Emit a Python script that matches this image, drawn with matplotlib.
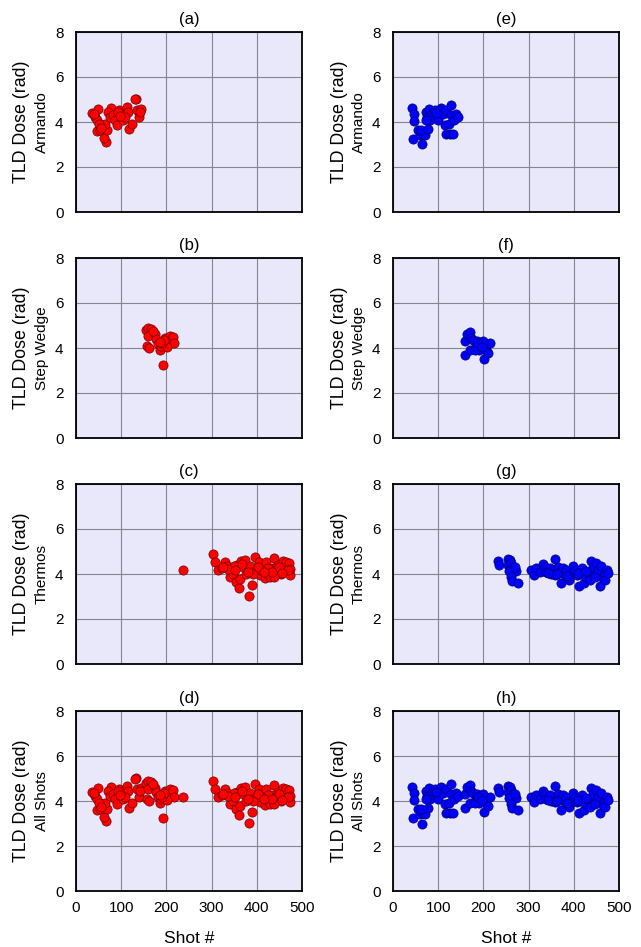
import matplotlib
matplotlib.use("Agg")
import matplotlib.pyplot as plt
import numpy as np

plt.rcParams['font.family'] = ['Liberation Sans', 'DejaVu Sans']

# ---------------- data ----------------
# (a) Armando, red
a_x = [36, 49, 42, 46, 66, 62, 46, 54, 68, 59, 64, 51, 77, 71, 75, 82, 86, 90, 96, 101,
       105, 112, 116, 118, 124, 133, 136, 143, 139, 40, 56, 92, 108, 98, 130, 141]
a_y = [4.40, 4.56, 4.22, 4.07, 3.11, 3.30, 3.60, 3.63, 3.63, 3.85, 3.90, 3.93, 4.64, 4.44, 4.22, 4.30, 4.10, 3.88, 4.52, 4.33,
       4.10, 4.67, 4.44, 3.70, 3.93, 5.02, 4.52, 4.58, 4.20, 4.35, 3.75, 4.45, 4.20, 4.25, 5.00, 4.45]

# (b) Step Wedge, red
b_x = [155, 160, 167, 160, 175, 178, 156, 162, 182, 186, 189, 193, 197, 199, 204, 208, 211, 215, 217, 202, 191, 171, 195, 185]
b_y = [4.78, 4.90, 4.85, 4.53, 4.60, 4.41, 4.11, 4.00, 4.16, 3.89, 4.08, 3.25, 4.45, 4.23, 4.30, 4.53, 4.33, 4.50, 4.20, 4.05, 4.20, 4.75, 4.35, 4.25]

# (c) Thermos, red
c_x = [236, 303, 307, 314, 322, 329, 333, 340, 344, 348, 355, 356, 361, 362, 366, 370, 373, 377, 383, 384,
       390, 395, 399, 404, 406, 414, 418, 421, 427, 430, 436, 438, 443, 447, 454, 458, 462, 465, 471, 473,
       474, 392, 410, 425, 449, 439, 349, 337, 325, 380, 402, 433, 468, 456, 415, 368, 352]
c_y = [4.18, 4.87, 4.54, 4.18, 4.25, 4.54, 4.35, 3.88, 4.18, 3.98, 3.66, 4.40, 3.37, 3.80, 4.60, 4.30, 4.63, 4.02, 3.03, 4.37,
       3.52, 4.74, 4.18, 4.54, 3.95, 4.30, 3.84, 4.54, 4.02, 3.88, 4.25, 4.70, 4.18, 4.40, 4.02, 4.60, 4.30, 4.52, 4.48, 3.95,
       4.22, 4.02, 4.18, 4.25, 4.30, 3.88, 4.35, 4.22, 4.30, 4.10, 4.30, 4.10, 4.20, 4.05, 4.10, 4.45, 4.20]

# (e) Armando, blue
e_x = [43, 46, 46, 44, 55, 59, 65, 66, 70, 63, 77, 74, 80, 76, 81, 85, 89, 94, 100, 103,
       107, 111, 114, 118, 128, 124, 118, 125, 133, 129, 136, 140, 144, 72, 96]
e_y = [4.62, 4.37, 4.04, 3.24, 3.66, 3.41, 3.00, 3.48, 3.41, 3.66, 3.70, 4.44, 4.59, 4.22, 4.07, 4.30, 4.44, 4.52, 4.10, 4.55,
       4.64, 4.34, 3.85, 4.55, 4.74, 3.93, 3.45, 3.48, 3.48, 4.30, 4.07, 4.37, 4.22, 4.10, 4.40]

# (f) Step Wedge, blue
f_x = [159, 159, 164, 170, 173, 170, 178, 183, 186, 190, 193, 201, 203, 206, 210, 214, 181, 199, 188, 196]
f_y = [3.71, 4.30, 4.64, 4.70, 4.45, 3.93, 4.37, 4.08, 4.30, 3.93, 4.22, 3.49, 4.08, 3.93, 3.79, 4.20, 3.93, 4.30, 4.20, 4.05]

# (g) Thermos, blue
g_x = [232, 234, 254, 258, 254, 262, 265, 257, 273, 262, 264, 276, 269,
       306, 311, 317, 325, 332, 336, 339, 347, 350, 358, 358, 365, 369, 372, 376, 380, 383,
       389, 395, 398, 402, 406, 412, 413, 419, 422, 426, 431, 435, 439, 442, 446, 450, 453, 457,
       461, 465, 468, 473, 470, 343, 362, 386, 409, 428, 448, 476]
g_y = [4.59, 4.41, 4.68, 4.61, 4.41, 4.49, 4.30, 4.15, 4.12, 3.88, 3.70, 3.61, 4.33,
       4.18, 3.96, 4.25, 4.10, 4.44, 4.30, 4.10, 4.25, 4.02, 4.68, 3.96, 4.30, 4.10, 3.61, 4.25, 3.96, 4.18,
       3.73, 4.02, 4.37, 4.18, 3.96, 3.47, 4.02, 4.25, 3.58, 3.88, 4.10, 3.73, 4.59, 4.30, 3.96, 4.47, 4.18, 3.47,
       4.37, 3.81, 4.02, 4.18, 3.73, 4.05, 4.00, 3.90, 4.05, 4.15, 3.85, 4.05]

titles_left = ['(a)', '(b)', '(c)', '(d)']
titles_right = ['(e)', '(f)', '(g)', '(h)']
row_names = ['Armando', 'Step Wedge', 'Thermos', 'All Shots']
x_ticks = [0, 100, 200, 300, 400, 500]
y_ticks = [0, 2, 4, 6, 8]

left_sets = [(a_x, a_y), (b_x, b_y), (c_x, c_y), (a_x + b_x + c_x, a_y + b_y + c_y)]
right_sets = [(e_x, e_y), (f_x, f_y), (g_x, g_y), (e_x + f_x + g_x, e_y + f_y + g_y)]

# ---------------- figure ----------------
W, H = 641, 947
fig = plt.figure(figsize=(W / 100, H / 100), dpi=100)

col_left_px = [76, 393]
ax_w_px = 226
row_top_px = [32, 258, 484, 711]
ax_h_px = 180

bg = '#e8e8fa'
cols = [('#ff0000', '#700000'), ('#0000ff', '#00006e')]

for ci, (sets, titles) in enumerate([(left_sets, titles_left), (right_sets, titles_right)]):
    lx = col_left_px[ci]
    for ri in range(4):
        top = row_top_px[ri]
        ax = fig.add_axes([lx / W, 1 - (top + ax_h_px) / H, ax_w_px / W, ax_h_px / H])
        ax.set_facecolor(bg)
        xs, ys = sets[ri]
        ax.scatter(xs, ys, s=44, facecolor=cols[ci][0], edgecolor=cols[ci][1],
                   linewidths=0.5, zorder=3)
        ax.set_xlim(0, 500)
        ax.set_ylim(0, 8)
        ax.set_xticks(x_ticks)
        ax.set_yticks(y_ticks)
        ax.grid(True, color='#85858f', linewidth=0.8, zorder=0)
        ax.set_axisbelow(True)
        for sp in ax.spines.values():
            sp.set_linewidth(1.3)
            sp.set_color('black')
        ax.tick_params(length=0, labelsize=11)
        ax.tick_params(axis='y', pad=9)
        ax.tick_params(axis='x', pad=7)
        if ri < 3:
            ax.set_xticklabels([])
        ax.set_title(titles[ri], fontsize=12, pad=6)
        cy = 1 - (top + ax_h_px / 2) / H
        fig.text((lx - 54) / W, cy, 'TLD Dose (rad)', rotation=90, fontsize=12.8,
                 ha='center', va='center')
        fig.text((lx - 34) / W, cy, row_names[ri], rotation=90, fontsize=11,
                 ha='center', va='center')
    fig.text((lx + ax_w_px / 2) / W, 1 - 938 / H, 'Shot #', fontsize=12.5,
             ha='center', va='center')

fig.savefig('out.png', dpi=100)
